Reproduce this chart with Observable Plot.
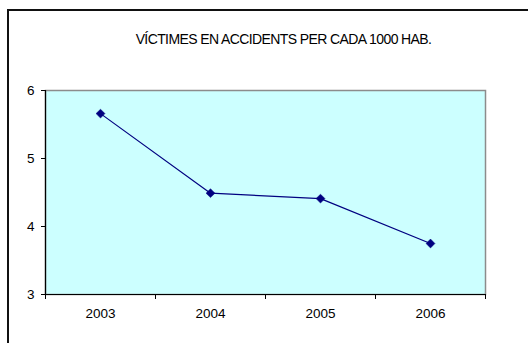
<!DOCTYPE html>
<html>
<head>
<meta charset="utf-8">
<script src="https://cdn.jsdelivr.net/npm/d3@7"></script>
<script src="https://cdn.jsdelivr.net/npm/@observablehq/plot@0.6"></script>
<style>
  html, body { margin: 0; padding: 0; background: #fff; }
  #wrap { position: relative; width: 528px; height: 343px; overflow: hidden; }
  #border { position: absolute; left: 7px; top: 9px; width: 600px; height: 400px;
            border-left: 2px solid #111; border-top: 2px solid #111; pointer-events: none; }
</style>
</head>
<body>
<div id="wrap"><div id="border"></div></div>
<script>
// Víctimes en accidents per cada 1000 habitants
const title = "VÍCTIMES EN ACCIDENTS PER CADA 1000 HAB.";
const years = [2003, 2004, 2005, 2006];
const victims = [5.66, 4.49, 4.41, 3.75];
const yTicks = [3, 4, 5, 6];

const data = years.map((year, i) => ({year, value: victims[i]}));
// category boundaries for the x tick marks
const bounds = years.map(y => y - 0.5).concat([years[years.length - 1] + 0.5]);

const navy = "#000080";

const chart = Plot.plot({
  width: 528,
  height: 343,
  marginLeft: 45,
  marginRight: 43,
  marginTop: 90,
  marginBottom: 49,
  style: {fontFamily: "'Liberation Sans', Arial, sans-serif", fontSize: "13.5px", background: "transparent", color: "#000"},
  x: {type: "linear", domain: [bounds[0], bounds[bounds.length - 1]]},
  y: {domain: [3, 6]},
  marks: [
    Plot.frame({fill: "#CCFFFF", stroke: "#8c8c8c", strokeWidth: 1.5}),
    Plot.ruleY([3], {stroke: "#000", strokeWidth: 1.2}),
    Plot.ruleX([bounds[0]], {stroke: "#000", strokeWidth: 1.2}),
    Plot.axisY({ticks: yTicks, tickSize: 4, tickPadding: 7, label: null, tickFormat: d => String(d)}),
    Plot.axisX({ticks: years, tickSize: 0, tickPadding: 14, label: null, tickFormat: d => String(d)}),
    Plot.axisX({ticks: bounds, tickSize: 5, label: null, tickFormat: () => ""}),
    Plot.line(data, {x: "year", y: "value", stroke: navy, strokeWidth: 1.2}),
    Plot.dot(data, {x: "year", y: "value", symbol: "diamond2", r: 4, fill: navy, stroke: navy, strokeWidth: 0.5}),
    Plot.text([title], {frameAnchor: "top", dx: 18, dy: -56, fontSize: 14, fill: "#000"})
  ]
});

d3.select(chart).selectAll("text")
  .filter(function () { return this.textContent === title; })
  .style("letter-spacing", "-0.6px");

chart.style.position = "absolute";
chart.style.left = "0";
chart.style.top = "0";
document.getElementById("wrap").appendChild(chart);
</script>
</body>
</html>
